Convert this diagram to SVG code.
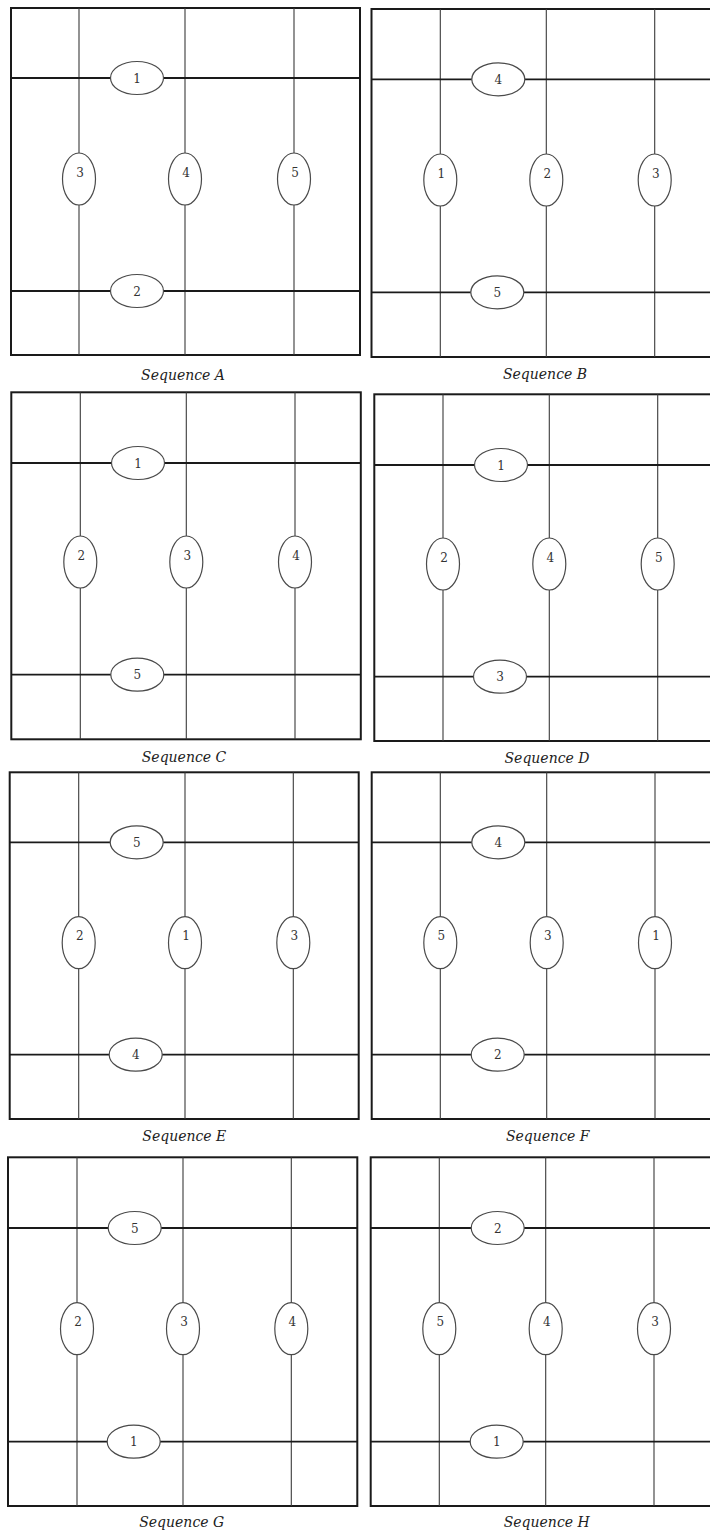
<svg xmlns="http://www.w3.org/2000/svg" width="710" height="1530" viewBox="0 0 710 1530">
<style>
.bg{fill:#fff}
.frame{fill:none;stroke:#1a1a1a;stroke-width:2}
.h{stroke:#1a1a1a;stroke-width:1.8}
.v{stroke:#3a3a3a;stroke-width:1.1}
.node ellipse{fill:#fff;stroke:#4a4a4a;stroke-width:1.2}
.num{font-family:"DejaVu Serif","Liberation Serif",serif;font-size:12px;fill:#333;text-anchor:middle}
.cap{font-family:"DejaVu Serif","Liberation Serif",serif;font-style:italic;font-size:14px;fill:#222;text-anchor:middle}
</style>
<rect class="bg" x="0" y="0" width="710" height="1530"/>

<!-- Panel A -->
<g id="panelA">
<rect class="frame" x="11" y="8" width="349" height="347"/>
<g id="connA">
<line class="v" x1="79" y1="8" x2="79" y2="355"/>
<line class="v" x1="185" y1="8" x2="185" y2="355"/>
<line class="v" x1="294" y1="8" x2="294" y2="355"/>
<line class="h" x1="11" y1="78" x2="360" y2="78"/>
<line class="h" x1="11" y1="291" x2="360" y2="291"/>
</g>
<g id="A1" class="node"><ellipse cx="137" cy="78" rx="26.5" ry="16.5"/><text class="num" x="137" y="82.5">1</text></g>
<g id="A2" class="node"><ellipse cx="137" cy="291" rx="26.5" ry="16.5"/><text class="num" x="137" y="295.5">2</text></g>
<g id="A3" class="node"><ellipse cx="79" cy="179" rx="16.5" ry="26"/><text class="num" x="80" y="176.5">3</text></g>
<g id="A4" class="node"><ellipse cx="185" cy="179" rx="16.5" ry="26"/><text class="num" x="186" y="176.5">4</text></g>
<g id="A5" class="node"><ellipse cx="294" cy="179" rx="16.5" ry="26"/><text class="num" x="295" y="176.5">5</text></g>
<text class="cap" x="183" y="380">Sequence A</text>
</g>

<!-- Panel B -->
<g id="panelB">
<rect class="frame" x="371.5" y="9" width="349" height="348"/>
<g id="connB">
<line class="v" x1="440.3" y1="9" x2="440.3" y2="357"/>
<line class="v" x1="546.3" y1="9" x2="546.3" y2="357"/>
<line class="v" x1="654.7" y1="9" x2="654.7" y2="357"/>
<line class="h" x1="371.5" y1="79.3" x2="720" y2="79.3"/>
<line class="h" x1="371.5" y1="292.3" x2="720" y2="292.3"/>
</g>
<g id="B4" class="node"><ellipse cx="498.3" cy="79.3" rx="26.5" ry="16.5"/><text class="num" x="498.3" y="83.8">4</text></g>
<g id="B5" class="node"><ellipse cx="497.3" cy="292.3" rx="26.5" ry="16.5"/><text class="num" x="497.3" y="296.8">5</text></g>
<g id="B1" class="node"><ellipse cx="440.3" cy="180" rx="16.5" ry="26"/><text class="num" x="441.3" y="177.5">1</text></g>
<g id="B2" class="node"><ellipse cx="546.3" cy="180" rx="16.5" ry="26"/><text class="num" x="547.3" y="177.5">2</text></g>
<g id="B3" class="node"><ellipse cx="654.7" cy="180" rx="16.5" ry="26"/><text class="num" x="655.7" y="177.5">3</text></g>
<text class="cap" x="545" y="379">Sequence B</text>
</g>

<!-- Panel C -->
<g id="panelC">
<rect class="frame" x="11.3" y="392.3" width="349.5" height="347"/>
<g id="connC">
<line class="v" x1="80.3" y1="392.3" x2="80.3" y2="739.3"/>
<line class="v" x1="186.3" y1="392.3" x2="186.3" y2="739.3"/>
<line class="v" x1="295" y1="392.3" x2="295" y2="739.3"/>
<line class="h" x1="11.3" y1="463" x2="360.8" y2="463"/>
<line class="h" x1="11.3" y1="674.7" x2="360.8" y2="674.7"/>
</g>
<g id="C1" class="node"><ellipse cx="138" cy="463" rx="26.5" ry="16.5"/><text class="num" x="138" y="467.5">1</text></g>
<g id="C5" class="node"><ellipse cx="137.3" cy="674.7" rx="26.5" ry="16.5"/><text class="num" x="137.3" y="679.2">5</text></g>
<g id="C2" class="node"><ellipse cx="80.3" cy="562" rx="16.5" ry="26"/><text class="num" x="81.3" y="559.5">2</text></g>
<g id="C3" class="node"><ellipse cx="186.3" cy="562" rx="16.5" ry="26"/><text class="num" x="187.3" y="559.5">3</text></g>
<g id="C4" class="node"><ellipse cx="295" cy="562" rx="16.5" ry="26"/><text class="num" x="296" y="559.5">4</text></g>
<text class="cap" x="184" y="761.5">Sequence C</text>
</g>

<!-- Panel D -->
<g id="panelD">
<rect class="frame" x="374.3" y="394.3" width="349" height="346.7"/>
<g id="connD">
<line class="v" x1="443" y1="394.3" x2="443" y2="741"/>
<line class="v" x1="549.3" y1="394.3" x2="549.3" y2="741"/>
<line class="v" x1="657.7" y1="394.3" x2="657.7" y2="741"/>
<line class="h" x1="374.3" y1="465" x2="723.3" y2="465"/>
<line class="h" x1="374.3" y1="676.7" x2="723.3" y2="676.7"/>
</g>
<g id="D1" class="node"><ellipse cx="501" cy="465" rx="26.5" ry="16.5"/><text class="num" x="501" y="469.5">1</text></g>
<g id="D3" class="node"><ellipse cx="500" cy="676.7" rx="26.5" ry="16.5"/><text class="num" x="500" y="681.2">3</text></g>
<g id="D2" class="node"><ellipse cx="443" cy="564" rx="16.5" ry="26"/><text class="num" x="444" y="561.5">2</text></g>
<g id="D4" class="node"><ellipse cx="549.3" cy="564" rx="16.5" ry="26"/><text class="num" x="550.3" y="561.5">4</text></g>
<g id="D5" class="node"><ellipse cx="657.7" cy="564" rx="16.5" ry="26"/><text class="num" x="658.7" y="561.5">5</text></g>
<text class="cap" x="547" y="763">Sequence D</text>
</g>

<!-- Panel E -->
<g id="panelE">
<rect class="frame" x="9.7" y="772.3" width="349" height="346.7"/>
<g id="connE">
<line class="v" x1="78.7" y1="772.3" x2="78.7" y2="1119"/>
<line class="v" x1="185" y1="772.3" x2="185" y2="1119"/>
<line class="v" x1="293.3" y1="772.3" x2="293.3" y2="1119"/>
<line class="h" x1="9.7" y1="842.3" x2="358.7" y2="842.3"/>
<line class="h" x1="9.7" y1="1054.7" x2="358.7" y2="1054.7"/>
</g>
<g id="E5" class="node"><ellipse cx="136.7" cy="842.3" rx="26.5" ry="16.5"/><text class="num" x="136.7" y="846.8">5</text></g>
<g id="E4" class="node"><ellipse cx="135.7" cy="1054.7" rx="26.5" ry="16.5"/><text class="num" x="135.7" y="1059.2">4</text></g>
<g id="E2" class="node"><ellipse cx="78.7" cy="942.7" rx="16.5" ry="26"/><text class="num" x="79.7" y="940.2">2</text></g>
<g id="E1" class="node"><ellipse cx="185" cy="942.7" rx="16.5" ry="26"/><text class="num" x="186" y="940.2">1</text></g>
<g id="E3" class="node"><ellipse cx="293.3" cy="942.7" rx="16.5" ry="26"/><text class="num" x="294.3" y="940.2">3</text></g>
<text class="cap" x="184.3" y="1140.5">Sequence E</text>
</g>

<!-- Panel F -->
<g id="panelF">
<rect class="frame" x="371.7" y="772.3" width="349" height="346.7"/>
<g id="connF">
<line class="v" x1="440.3" y1="772.3" x2="440.3" y2="1119"/>
<line class="v" x1="546.7" y1="772.3" x2="546.7" y2="1119"/>
<line class="v" x1="655" y1="772.3" x2="655" y2="1119"/>
<line class="h" x1="371.7" y1="842.3" x2="720.7" y2="842.3"/>
<line class="h" x1="371.7" y1="1054.7" x2="720.7" y2="1054.7"/>
</g>
<g id="F4" class="node"><ellipse cx="498.3" cy="842.3" rx="26.5" ry="16.5"/><text class="num" x="498.3" y="846.8">4</text></g>
<g id="F2" class="node"><ellipse cx="497.7" cy="1054.7" rx="26.5" ry="16.5"/><text class="num" x="497.7" y="1059.2">2</text></g>
<g id="F5" class="node"><ellipse cx="440.3" cy="942.7" rx="16.5" ry="26"/><text class="num" x="441.3" y="940.2">5</text></g>
<g id="F3" class="node"><ellipse cx="546.7" cy="942.7" rx="16.5" ry="26"/><text class="num" x="547.7" y="940.2">3</text></g>
<g id="F1" class="node"><ellipse cx="655" cy="942.7" rx="16.5" ry="26"/><text class="num" x="656" y="940.2">1</text></g>
<text class="cap" x="547.7" y="1140.5">Sequence F</text>
</g>

<!-- Panel G -->
<g id="panelG">
<rect class="frame" x="8" y="1157.3" width="349.3" height="348.7"/>
<g id="connG">
<line class="v" x1="77" y1="1157.3" x2="77" y2="1506"/>
<line class="v" x1="183" y1="1157.3" x2="183" y2="1506"/>
<line class="v" x1="291.3" y1="1157.3" x2="291.3" y2="1506"/>
<line class="h" x1="8" y1="1228" x2="357.3" y2="1228"/>
<line class="h" x1="8" y1="1441.7" x2="357.3" y2="1441.7"/>
</g>
<g id="G5" class="node"><ellipse cx="134.7" cy="1228" rx="26.5" ry="16.5"/><text class="num" x="134.7" y="1232.5">5</text></g>
<g id="G1" class="node"><ellipse cx="133.7" cy="1441.7" rx="26.5" ry="16.5"/><text class="num" x="133.7" y="1446.2">1</text></g>
<g id="G2" class="node"><ellipse cx="77" cy="1328.7" rx="16.5" ry="26"/><text class="num" x="78" y="1326.2">2</text></g>
<g id="G3" class="node"><ellipse cx="183" cy="1328.7" rx="16.5" ry="26"/><text class="num" x="184" y="1326.2">3</text></g>
<g id="G4" class="node"><ellipse cx="291.3" cy="1328.7" rx="16.5" ry="26"/><text class="num" x="292.3" y="1326.2">4</text></g>
<text class="cap" x="181.7" y="1527">Sequence G</text>
</g>

<!-- Panel H -->
<g id="panelH">
<rect class="frame" x="370.7" y="1157.3" width="349" height="348.7"/>
<g id="connH">
<line class="v" x1="439.3" y1="1157.3" x2="439.3" y2="1506"/>
<line class="v" x1="545.7" y1="1157.3" x2="545.7" y2="1506"/>
<line class="v" x1="654" y1="1157.3" x2="654" y2="1506"/>
<line class="h" x1="370.7" y1="1228" x2="719.7" y2="1228"/>
<line class="h" x1="370.7" y1="1441.7" x2="719.7" y2="1441.7"/>
</g>
<g id="H2" class="node"><ellipse cx="497.7" cy="1228" rx="26.5" ry="16.5"/><text class="num" x="497.7" y="1232.5">2</text></g>
<g id="H1" class="node"><ellipse cx="496.7" cy="1441.7" rx="26.5" ry="16.5"/><text class="num" x="496.7" y="1446.2">1</text></g>
<g id="H5" class="node"><ellipse cx="439.3" cy="1328.7" rx="16.5" ry="26"/><text class="num" x="440.3" y="1326.2">5</text></g>
<g id="H4" class="node"><ellipse cx="545.7" cy="1328.7" rx="16.5" ry="26"/><text class="num" x="546.7" y="1326.2">4</text></g>
<g id="H3" class="node"><ellipse cx="654" cy="1328.7" rx="16.5" ry="26"/><text class="num" x="655" y="1326.2">3</text></g>
<text class="cap" x="546.7" y="1527">Sequence H</text>
</g>
</svg>
